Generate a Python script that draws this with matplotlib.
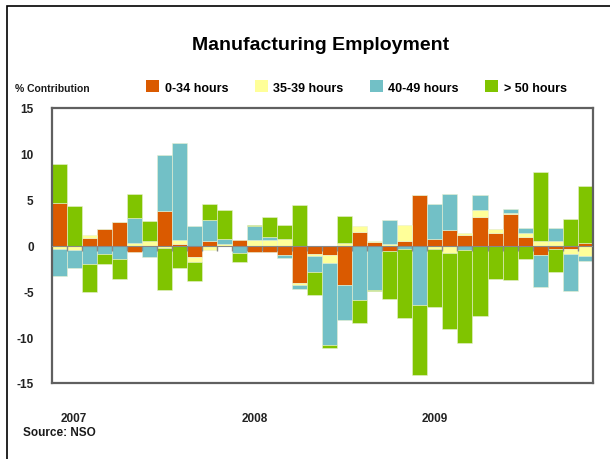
import matplotlib
matplotlib.use("Agg")
import matplotlib.pyplot as plt
from matplotlib.patches import Rectangle, Patch
import numpy as np

plt.rcParams['font.family'] = ['Liberation Sans', 'DejaVu Sans']

series_names = ["0-34 hours", "35-39 hours", "40-49 hours", "> 50 hours"]
colors = ["#DA5A00", "#FFFF99", "#72C0C6", "#80C400"]

h_0_34 = [4.6, 0.0, 0.85, 1.8, 2.6, -0.7, 0.0, 3.75, 0.2, -1.27, 0.45, -0.1,
          0.65, -0.73, -0.73, -1.0, -4.07, -0.95, -1.0, -4.36, 1.5, 0.4, -0.62, 0.5,
          5.5, 0.73, 1.7, 1.1, 3.16, 1.38, 3.45, 0.98, -1.0, -0.33, -0.33, 0.25]
h_35_39 = [-0.35, -0.5, 0.25, 0.0, 0.0, 0.3, 0.45, -0.3, 0.45, -0.55, -0.5, 0.2,
           -0.1, 0.58, 0.58, 0.73, -0.25, -0.2, -0.87, 0.3, 0.58, 0.1, 0.15, 1.7,
           0.0, -0.33, -0.87, 0.25, 0.7, 0.4, 0.15, 0.4, 0.5, 0.5, -0.58, -1.16]
h_40_49 = [-3.0, -2.0, -2.0, -0.9, -1.45, 2.75, -1.3, 6.1, 10.5, 2.1, 2.35, 0.5,
           -0.7, 1.56, 0.3, -0.4, -0.45, -1.7, -9.0, -3.8, -5.9, -4.87, 2.6, -0.36,
           -6.5, 3.8, 3.96, -0.44, 1.67, 0.0, 0.4, 0.5, -3.5, 1.4, -4.0, -0.55]
h_50_plus = [4.3, 4.3, -3.1, -1.1, -2.2, 2.6, 2.2, -4.6, -2.45, -2.0, 1.75, 3.15,
             -1.0, 0.07, 2.2, 1.5, 4.45, -2.6, -0.36, 2.87, -2.6, -0.1, -5.27, -7.6,
             -7.6, -6.36, -8.2, -10.2, -7.7, -3.64, -3.8, -1.42, 7.5, -2.6, 2.9, 6.25]

year_labels = ["2007", "2008", "2009"]
year_positions = [1, 13, 25]
yticks = [15, 10, 5, 0, -5, -10, -15]

all_series = [h_0_34, h_35_39, h_40_49, h_50_plus]
n = len(h_0_34)
x = np.arange(n)

fig = plt.figure(figsize=(6.1, 4.6), dpi=100)
ax = fig.add_axes([51.7/610, 1-384/460, (592.7-51.7)/610, 275/460])

pos_base = np.zeros(n)
neg_base = np.zeros(n)
for vals, col, name in zip(all_series, colors, series_names):
    v = np.array(vals, dtype=float)
    bottom = np.where(v >= 0, pos_base, neg_base)
    ax.bar(x, v, width=1.0, bottom=bottom, color=col, edgecolor='#e8f0d0',
           linewidth=0.4, label=name, zorder=2)
    pos_base = pos_base + np.where(v >= 0, v, 0)
    neg_base = neg_base + np.where(v < 0, v, 0)

ax.axhline(0, color='#888888', lw=0.8, zorder=3)
ax.vlines(x[:-1] + 0.5, 0, -0.6, color='#888888', lw=1.0, zorder=3)

ax.set_xlim(-0.5, n - 0.5)
ax.set_ylim(-15, 15)
ax.set_yticks(yticks)
ax.set_yticklabels([str(t) for t in yticks], fontsize=8.5, fontweight='bold', color='#222222')
ax.tick_params(axis='y', length=0, pad=13)
ax.set_xticks(year_positions)
ax.set_xticklabels(year_labels, fontsize=8.5, fontweight='bold', color='#222222')
ax.tick_params(axis='x', length=0, pad=21)

for s in ax.spines.values():
    s.set_color('#606060')
    s.set_linewidth(1.6)

fig.text(321/610, 1-45/460, "Manufacturing Employment", ha='center', va='center',
         fontsize=14, fontweight='bold', color='black')
fig.text(15/610, 1-89/460, "% Contribution", ha='left', va='center',
         fontsize=7.5, fontweight='bold', color='#1a1a1a')
fig.text(23/610, 1-433/460, "Source: NSO", ha='left', va='center',
         fontsize=8.5, fontweight='bold', color='#1a1a1a')

handles = [Patch(facecolor=c, edgecolor='none') for c in colors]
fig.legend(handles, series_names, loc='center left', bbox_to_anchor=(146/610, 1-88/460),
           ncol=4, frameon=False, prop={'weight': 'bold', 'size': 9},
           handlelength=1.05, handleheight=1.05, handletextpad=0.45, columnspacing=2.1,
           borderpad=0, borderaxespad=0)

fig.patches.append(Rectangle((7/610, -0.1), 1.2, 1 - 7/460 + 0.1, transform=fig.transFigure,
                             fill=False, edgecolor='black', lw=1.2))

fig.savefig("out.png", dpi=100)
